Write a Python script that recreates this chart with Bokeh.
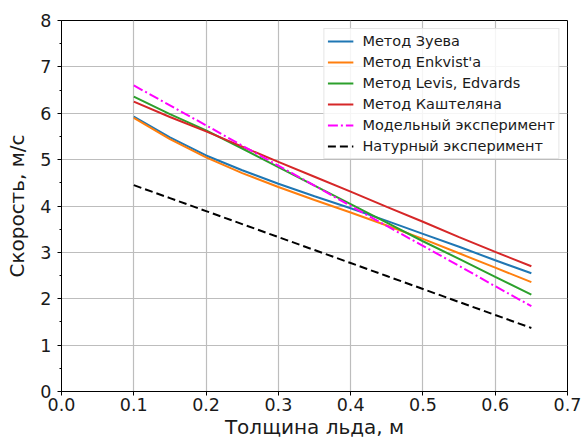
from bokeh.plotting import figure
from bokeh.models import FixedTicker, PrintfTickFormatter, Range1d, Legend
from bokeh.embed import file_html
from bokeh.resources import INLINE

# thickness of ice, m
thickness = [0.10, 0.15, 0.20, 0.25, 0.30, 0.35, 0.40, 0.45, 0.50, 0.55, 0.60, 0.65]

zueva = [5.93, 5.48, 5.09, 4.77, 4.48, 4.21, 3.95, 3.68, 3.40, 3.12, 2.83, 2.55]
enkvist = [5.90, 5.44, 5.05, 4.71, 4.41, 4.13, 3.86, 3.58, 3.29, 2.98, 2.67, 2.36]
levis = [6.36, 5.98, 5.63, 5.24, 4.84, 4.44, 4.04, 3.64, 3.24, 2.86, 2.47, 2.09]
kasht = [6.25, 5.92, 5.61, 5.28, 4.95, 4.63, 4.31, 3.98, 3.66, 3.33, 3.01, 2.70]
model = [6.60, 6.17, 5.74, 5.30, 4.87, 4.44, 4.00, 3.57, 3.14, 2.71, 2.27, 1.84]
nature = [4.45, 4.17, 3.89, 3.61, 3.33, 3.05, 2.77, 2.49, 2.21, 1.93, 1.65, 1.37]

labels = ["Метод Зуева", "Метод Enkvist'a", "Метод Levis, Edvards",
          "Метод Каштеляна", "Модельный эксперимент", "Натурный эксперимент"]

x_ticks = [0.0, 0.1, 0.2, 0.3, 0.4, 0.5, 0.6, 0.7]
y_ticks = [0, 1, 2, 3, 4, 5, 6, 7, 8]
y_minor = [0.5, 1.5, 2.5, 3.5, 4.5, 5.5, 6.5, 7.5]

FONT = "DejaVu Sans"
TXT = "#1a1a1a"

p = figure(width=582, height=441, output_backend="svg", toolbar_location=None,
           x_range=Range1d(0, 0.7), y_range=Range1d(0, 8),
           min_border_left=61, min_border_right=15, min_border_top=20, min_border_bottom=50)

p.outline_line_color = "black"
p.outline_line_width = 1
p.outline_line_alpha = 1

p.xaxis.ticker = FixedTicker(ticks=x_ticks)
p.yaxis.ticker = FixedTicker(ticks=y_ticks, minor_ticks=y_minor)
p.xaxis.formatter = PrintfTickFormatter(format="%.1f")
p.yaxis.formatter = PrintfTickFormatter(format="%d")

for ax in (p.xaxis, p.yaxis):
    ax.major_label_text_font = FONT
    ax.major_label_text_font_size = "17.5px"
    ax.major_label_text_color = TXT
    ax.axis_label_text_font = FONT
    ax.axis_label_text_font_size = "20px"
    ax.axis_label_text_font_style = "normal"
    ax.axis_label_text_color = TXT
    ax.major_tick_in = 0
    ax.major_tick_out = 4
    ax.minor_tick_in = 0
    ax.minor_tick_out = 2
    ax.axis_line_color = "black"
    ax.major_tick_line_color = "black"
    ax.minor_tick_line_color = "black"

p.xaxis.minor_tick_line_color = None
p.xaxis.axis_label = "Толщина льда, м"
p.yaxis.axis_label = "Скорость, м/с"
p.xaxis.major_label_standoff = 2
p.xaxis.axis_label_standoff = 1
p.yaxis.major_label_standoff = 6
p.yaxis.axis_label_standoff = 8

p.xgrid.ticker = FixedTicker(ticks=x_ticks)
p.ygrid.ticker = FixedTicker(ticks=y_ticks)
p.grid.grid_line_color = "#bdbdbd"
p.grid.grid_line_width = 1.2

series = [zueva, enkvist, levis, kasht, model, nature]
colors = ["#1f77b4", "#ff7f0e", "#2ca02c", "#d62728", "#ff00ff", "black"]
dashes = ["solid", "solid", "solid", "solid", "10 3 2 3", "8 4"]

items = []
for ys, c, d, lab in zip(series, colors, dashes, labels):
    r = p.line(thickness, ys, line_color=c, line_width=2, line_dash=d)
    items.append((lab, [r]))

legend = Legend(items=items, location="top_right")
legend.margin = 8
legend.padding = 3
legend.spacing = 3
legend.label_height = 18
legend.glyph_height = 18
legend.glyph_width = 26
legend.label_standoff = 9
legend.label_text_font = FONT
legend.label_text_font_size = "14.5px"
legend.label_text_color = TXT
legend.border_line_color = "#cccccc"
legend.border_line_width = 1
legend.background_fill_color = "white"
legend.background_fill_alpha = 0.85
p.add_layout(legend, "center")

open("out.html", "w").write(file_html(p, INLINE))
